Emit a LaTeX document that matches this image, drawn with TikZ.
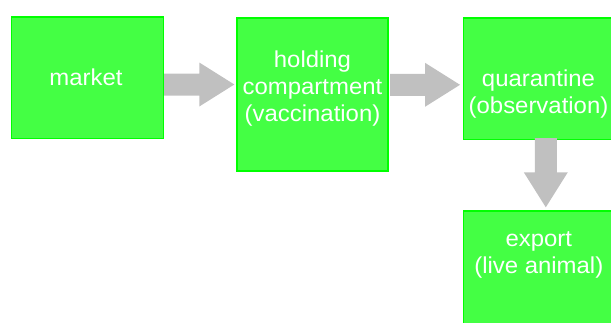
\documentclass[tikz,border=0pt]{standalone}
\usepackage{fontspec}
\setmainfont{Liberation Sans}[FakeStretch=1.04]
\usetikzlibrary{calc}
\definecolor{boxfill}{RGB}{68,255,68}
\definecolor{boxline}{RGB}{0,255,0}
\definecolor{arrowgray}{RGB}{192,192,192}
\newcommand\hblockarrow[2]{%
  \fill[arrowgray] ($(#1)+(0,-11)$) -- ($(#2)+(-35,-11)$) -- ($(#2)+(-35,-22)$) -- (#2)
    -- ($(#2)+(-35,22)$) -- ($(#2)+(-35,11)$) -- ($(#1)+(0,11)$) -- cycle;}
\newcommand\vblockarrow[2]{%
  \fill[arrowgray] ($(#1)+(-11,0)$) -- ($(#2)+(-11,-35)$) -- ($(#2)+(-22,-35)$) -- (#2)
    -- ($(#2)+(22,-35)$) -- ($(#2)+(11,-35)$) -- ($(#1)+(11,0)$) -- cycle;}
\begin{document}
\begin{tikzpicture}[x=1pt,y=-1pt,
  stagebox/.style={draw=boxline, fill=boxfill, line width=1.5pt, inner sep=0pt, anchor=north west},
  stagetext/.style={text=white, align=center, font=\fontsize{23}{27}\selectfont, inner sep=0pt}]
\useasboundingbox (0,0) rectangle (611,322);
\clip (0,0) rectangle (611,322);
% boxes
\node[stagebox, minimum width=152pt, minimum height=121.5pt] (market) at (10.5,16) {};
\node[stagebox, minimum width=151pt, minimum height=153pt] (holding) at (236,17) {};
\node[stagebox, minimum width=151.6pt, minimum height=121.7pt] (quarantine) at (462.7,17) {};
\node[stagebox, minimum width=151.6pt, minimum height=121pt] (export) at (462.7,210) {};
% texts
\node[stagetext] (tmarket) at (86,76.8) {market};
\node[stagetext] (tholding) at (312.5,88.5) {holding\\compartment\\(vaccination)};
\node[stagetext] (tquarantine) at (538.5,94.5) {quarantine\\(observation)};
\node[stagetext] (texport) at (538.8,255) {export\\(live animal)};
% arrows
\coordinate (a1s) at (164,84.5);
\coordinate (a1t) at (234.3,84.5);
\coordinate (a2s) at (390,84.8);
\coordinate (a2t) at (460,84.8);
\coordinate (a3s) at (545.8,138);
\coordinate (a3t) at (545.8,207.3);
\hblockarrow{a1s}{a1t}
\hblockarrow{a2s}{a2t}
\vblockarrow{a3s}{a3t}
\end{tikzpicture}
\end{document}
